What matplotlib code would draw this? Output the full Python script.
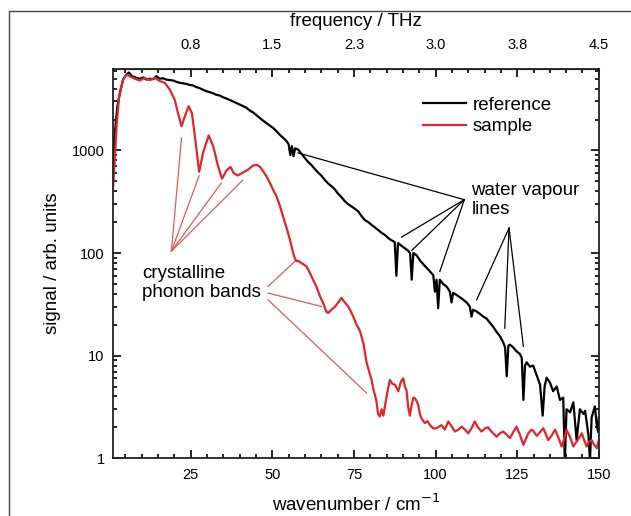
import matplotlib.pyplot as plt
from matplotlib.ticker import MultipleLocator, NullFormatter
from matplotlib.patches import Rectangle

plt.rcParams['font.family'] = ['Liberation Sans', 'DejaVu Sans']

# reference spectrum (no sample): wavenumber / cm-1, signal
wn_ref = [1.2, 1.8, 2.5, 3.3, 4.3, 5.3, 6.1, 7.0, 8.4, 9.5, 10.5, 11.5, 12.5, 13.5, 14.5, 15.5,
          16.5, 17.6, 18.6, 19.7, 20.7, 21.7, 22.7, 23.7, 24.7, 25.7, 26.7, 27.7, 28.8, 29.8,
          30.8, 31.9, 32.9, 33.9, 34.9, 36.0, 37.0, 38.0, 39.0, 40.0, 41.1, 42.1, 43.1, 44.1,
          45.2, 46.2, 47.2, 48.2, 49.2, 50.2, 51.2, 52.3, 53.3, 54.4, 55.0, 55.5, 56.0, 56.5,
          57.0, 57.9, 58.9, 59.9, 61.0, 62.0, 63.0, 64.0, 65.0, 66.0, 67.0, 68.0, 69.1, 70.1,
          71.2, 72.2, 73.2, 74.2, 75.3, 76.3, 77.3, 78.3, 79.4, 80.4, 81.4, 82.4, 83.4, 84.5,
          85.5, 86.5, 87.5, 88.0, 88.5, 89.5, 90.5, 91.5, 92.2, 92.7, 93.2, 94.2, 95.2, 96.2,
          97.2, 98.3, 99.3, 99.8, 100.3, 100.8, 101.3, 102.3, 103.4, 104.4, 104.9, 105.4, 106.4,
          107.5, 108.5, 109.5, 110.5, 111.0, 111.5, 112.5, 113.6, 114.6, 115.6, 116.6, 117.7,
          118.7, 119.7, 120.7, 121.3, 121.8, 122.3, 122.8, 123.8, 124.8, 125.8, 126.4, 126.9,
          127.4, 127.9, 128.9, 129.9, 130.9, 132.0, 132.8, 133.4, 134.0, 135.0, 136.0, 137.1,
          138.1, 139.1, 139.6, 140.1, 141.2, 142.2, 143.2, 144.2, 145.3, 145.8, 146.8, 147.3,
          147.8, 148.8, 149.3, 149.8, 150.0]
sig_ref = [700, 1500, 2600, 3600, 4900, 5500, 5750, 5300, 5100, 5000, 5150, 4900, 5000, 4950, 5300, 5000,
           5050, 4900, 4850, 4800, 4650, 4560, 4500, 4450, 4350, 4300, 4150, 4050, 3900, 3780,
           3700, 3600, 3480, 3430, 3300, 3200, 3100, 3000, 2900, 2800, 2700, 2600, 2450, 2350,
           2200, 2075, 1950, 1850, 1750, 1660, 1550, 1420, 1330, 1230, 1150, 900, 1100, 880,
           1050, 1020, 930, 850, 770, 720, 660, 610, 570, 520, 480, 450, 420, 380,
           350, 320, 300, 285, 270, 255, 230, 210, 200, 188, 178, 168, 158, 150,
           140, 133, 128, 60, 125, 118, 112, 106, 100, 55, 100, 95, 85, 78,
           72, 66, 61, 42, 55, 29, 55, 50, 47, 42, 33, 41, 39,
           37, 35, 33, 30, 24, 28, 27, 25.5, 24, 23, 21, 19,
           17, 15.5, 13.5, 12, 6.3, 12.5, 12.8, 12, 11, 10.4, 9.5, 3.7,
           8, 8.6, 7.8, 8.0, 6.5, 5.2, 2.6, 5, 6.1, 5.5, 4.5, 5.0,
           3.7, 3.9, 0.9, 3.0, 2.8, 3.5, 1.5, 3.0, 2.7, 2.9, 1.7, 0.95,
           2.5, 3.2, 2.2, 1.8, 2.5]

# sample spectrum
wn_smp = [1.2, 1.75, 2.3, 3.1, 4.3, 5.3, 6.3, 7.9, 9.4, 10.9, 12.5, 14.0, 15.5, 17.1, 18.6, 20.1,
          21.1, 22.2, 23.2, 24.4, 25.4, 26.3, 27.6, 28.8, 30.5, 31.9, 33.4, 34.6, 36.0, 37.2,
          38.2, 39.4, 40.6, 42.6, 44.0, 45.2, 46.3, 47.3, 48.2, 49.3, 50.3, 51.3, 52.3, 53.3,
          54.4, 55.4, 56.4, 56.9, 57.4, 57.9, 58.9, 59.9, 60.5, 61.5, 62.5, 63.5, 64.6, 65.6,
          66.5, 67.1, 68.1, 69.2, 70.2, 71.2, 72.2, 73.3, 73.8, 74.8, 75.8, 76.8, 77.9, 78.9,
          79.4, 80.4, 80.9, 81.9, 82.4, 82.9, 83.5, 84.0, 84.5, 85.0, 86.0, 86.8, 87.6, 88.6,
          89.4, 90.1, 90.6, 91.1, 91.6, 92.1, 92.6, 93.2, 93.7, 94.2, 94.7, 95.2, 95.7, 96.7,
          97.5, 98.3, 99.3, 100.3, 101.3, 101.8, 102.8, 103.9, 104.9, 105.9, 107.0, 108.0, 109.0,
          110.0, 111.0, 112.0, 113.0, 114.1, 115.1, 116.1, 116.6, 117.6, 118.7, 119.7, 120.7,
          121.7, 122.8, 123.8, 124.8, 125.8, 126.9, 127.9, 128.4, 129.4, 129.9, 131.0, 132.0,
          133.0, 133.8, 134.5, 135.5, 136.6, 137.6, 138.6, 139.4, 140.1, 141.2, 142.2, 143.5,
          144.8, 145.5, 146.3, 147.0, 147.8, 148.6, 149.4, 150.0]
sig_smp = [415, 810, 1720, 3380, 4900, 5500, 5300, 5000, 4800, 5100, 4850, 5100, 4750, 4560, 3920, 3130,
           2320, 1720, 2140, 2700, 2300, 1370, 620, 946, 1400, 1100, 700, 530, 640, 690,
           600, 570, 600, 650, 710, 725, 690, 620, 560, 480, 410, 357, 290, 227,
           175, 135, 100, 89, 83, 84, 80, 76, 74, 64, 55, 47, 38, 32.5,
           27, 26, 28, 30, 33, 36.5, 33, 30, 28, 24, 20, 17.5, 13.2, 8.5,
           7.5, 5.8, 4.8, 3.6, 2.7, 2.55, 3.0, 2.6, 3.2, 4.0, 5.8, 5.3, 5.2, 4.5,
           5.6, 6.0, 5.0, 4.6, 3.2, 2.6, 3.2, 3.9, 3.85, 3.6, 3.3, 2.7, 2.45, 2.2,
           2.3, 2.1, 1.95, 1.96, 2.05, 2.1, 1.9, 2.28, 2.05, 1.82, 1.9, 2.03, 1.9,
           1.75, 1.95, 2.28, 2.0, 1.82, 1.95, 2.0, 1.9, 1.75, 1.62, 1.75, 1.82,
           1.7, 1.57, 1.8, 2.03, 1.7, 1.35, 1.6, 1.75, 1.9, 1.85, 1.65, 1.8,
           1.96, 1.7, 1.5, 1.65, 1.9, 1.6, 1.3, 1.55, 1.9, 1.6, 1.3, 1.5,
           1.75, 1.5, 1.3, 1.45, 1.5, 1.35, 1.25, 1.5]

wn_ticks = [25, 50, 75, 100, 125, 150]
freq_labels = ['0.8', '1.5', '2.3', '3.0', '3.8', '4.5']
sig_ticks = [1, 10, 100, 1000]
sig_labels = ['1', '10', '100', '1000']

RED = '#e2252b'
ANN_RED = '#e35a5a'

fig = plt.figure(figsize=(6.31, 5.16), dpi=100)
ax = fig.add_axes([0.179, 0.112, 0.770, 0.754])

ax.plot(wn_ref, sig_ref, color='black', lw=1.6, label='reference')
ax.plot(wn_smp, sig_smp, color=RED, lw=1.6, label='sample')

ax.set_yscale('log')
ax.set_xlim(1.2, 150)
ax.set_ylim(1, 6200)

ax.set_xticks(wn_ticks)
ax.xaxis.set_minor_locator(MultipleLocator(5))
ax.set_yticks(sig_ticks, labels=sig_labels)
ax.yaxis.set_minor_formatter(NullFormatter())
ax.tick_params(which='both', direction='in', right=True, top=False, labelsize=10.5, width=1.2)
ax.tick_params(which='major', length=6)
ax.tick_params(which='minor', length=3)
ax.tick_params(axis='x', pad=7)
ax.tick_params(axis='y', pad=6)
for s in ax.spines.values():
    s.set_linewidth(1.3)
    s.set_color('#222222')

# obere Achse: Frequenz in THz
sec = ax.secondary_xaxis('top')
sec.set_xticks(wn_ticks, labels=freq_labels)
sec.xaxis.set_minor_locator(MultipleLocator(5))
sec.tick_params(which='both', direction='in', labelsize=10.5, width=1.2, pad=12)
sec.tick_params(which='major', length=6)
sec.tick_params(which='minor', length=3)
sec.set_xlabel('frequency / THz', fontsize=13.5, labelpad=9)

ax.set_xlabel('wavenumber / cm$^{-1}$', fontsize=13.5, labelpad=8)
ax.set_ylabel('signal / arb. units', fontsize=13.5, labelpad=8)

ax.legend(loc='upper left', bbox_to_anchor=(0.638, 0.93), frameon=False, fontsize=13.5,
          borderpad=0, borderaxespad=0, handlelength=2.3, handletextpad=0.35, labelspacing=0.25)

# Wasserdampflinien
ax.text(111.0, 329, 'water vapour\nlines', fontsize=13.5, ha='left', va='center', linespacing=1.2)
for x1, y1 in [(57.9, 946), (89.6, 143), (92.7, 106), (101.3, 66)]:
    ax.plot([108.8, x1], [331, y1], color='black', lw=0.9)
for x1, y1 in [(112.6, 35), (121.2, 18.5), (126.9, 12.3)]:
    ax.plot([122.5, x1], [175, y1], color='black', lw=0.9)

# Phononenbanden
ax.text(10.1, 51, 'crystalline\nphonon bands', fontsize=13.5, ha='left', va='center', linespacing=1.2)
for x1, y1 in [(22.2, 1324), (27.6, 568), (34.4, 482), (40.9, 511)]:
    ax.plot([19.1, x1], [104, y1], color=ANN_RED, lw=0.9)
for y0, x1, y1 in [(47.2, 56.9, 82.8), (40.7, 65.1, 30.1), (35.0, 78.9, 4.31)]:
    ax.plot([48.7, x1], [y0, y1], color=ANN_RED, lw=0.9)

# Rahmen um die Abbildung (nur links und oben sichtbar)
fig.patches.append(Rectangle((9 / 631, -0.5), 3.0, 1.5 - 11 / 516, transform=fig.transFigure,
                             fill=False, edgecolor='#444444', lw=1.0))

fig.savefig('out.png', dpi=100)
